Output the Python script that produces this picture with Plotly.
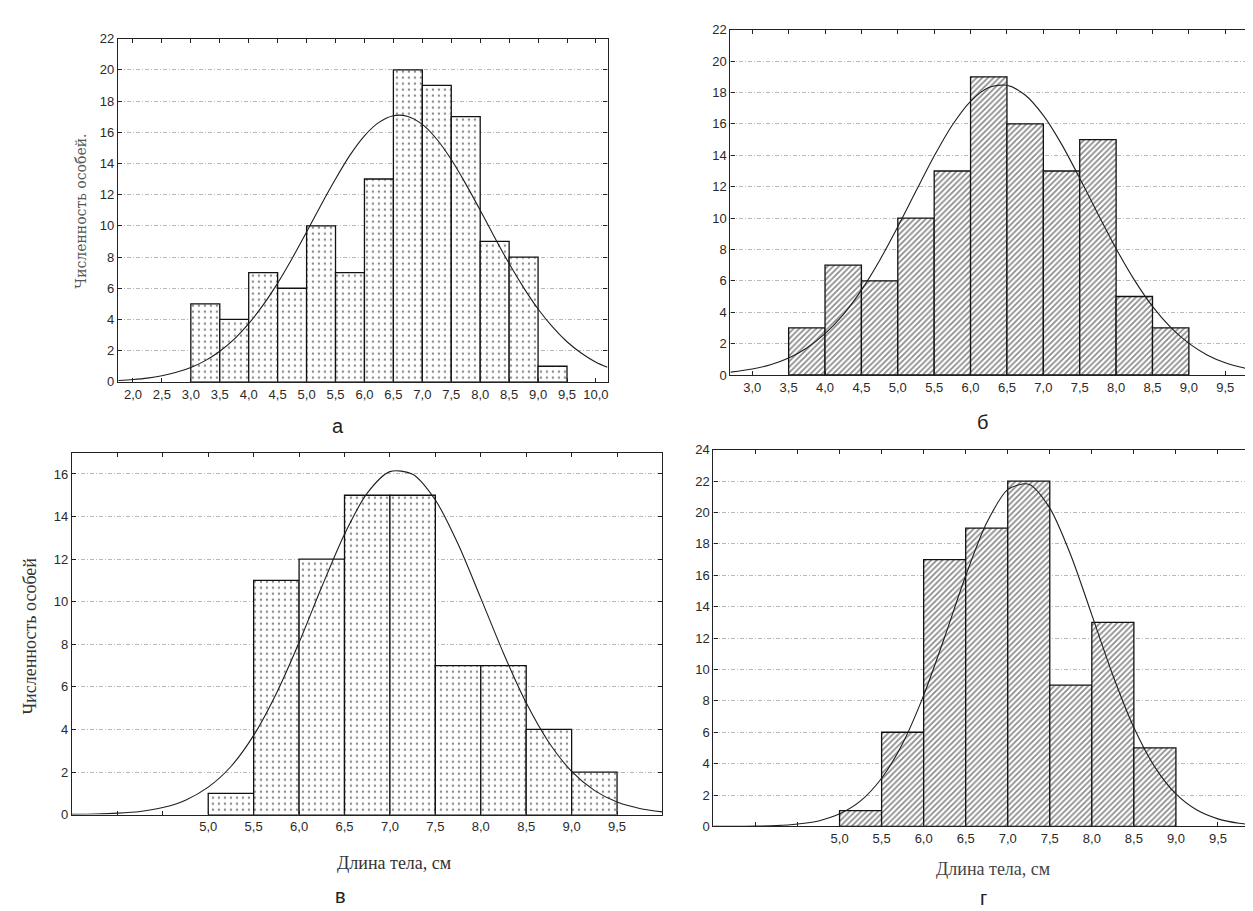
import plotly.graph_objects as go

W, H = 1253, 911
BIN_WIDTH = 0.5

# ---------------- data ----------------
# Panel а
A_BIN_LEFT = [3.0, 3.5, 4.0, 4.5, 5.0, 5.5, 6.0, 6.5, 7.0, 7.5, 8.0, 8.5, 9.0]
A_COUNTS = [5, 4, 7, 6, 10, 7, 13, 20, 19, 17, 9, 8, 1]
A_CURVE_X = [1.75, 2.0, 2.25, 2.5, 2.75, 3.0, 3.25, 3.5, 3.75, 4.0, 4.25, 4.5, 4.75, 5.0,
             5.25, 5.5, 5.75, 6.0, 6.25, 6.5, 6.75, 7.0, 7.25, 7.5, 7.75, 8.0, 8.25, 8.5,
             8.75, 9.0, 9.25, 9.5, 9.75, 10.0, 10.2]
A_CURVE_Y = [0.09, 0.15, 0.24, 0.39, 0.61, 0.92, 1.36, 1.96, 2.74, 3.73, 4.93, 6.33, 7.91, 9.60,
             11.34, 13.0, 14.53, 15.77, 16.63, 17.06, 17.01, 16.50, 15.55, 14.25, 12.69, 11.0,
             9.26, 7.58, 6.04, 4.67, 3.52, 2.57, 1.83, 1.26, 0.93]
A_TICKS = [2.0, 2.5, 3.0, 3.5, 4.0, 4.5, 5.0, 5.5, 6.0, 6.5, 7.0, 7.5, 8.0, 8.5, 9.0, 9.5, 10.0]
A_TICK_TEXT = ["2,0", "2,5", "3,0", "3,5", "4,0", "4,5", "5,0", "5,5", "6,0", "6,5", "7,0",
               "7,5", "8,0", "8,5", "9,0", "9,5", "10,0"]

# Panel б
B_BIN_LEFT = [3.5, 4.0, 4.5, 5.0, 5.5, 6.0, 6.5, 7.0, 7.5, 8.0, 8.5]
B_COUNTS = [3, 7, 6, 10, 13, 19, 16, 13, 15, 5, 3]
B_CURVE_X = [2.7, 3.0, 3.25, 3.5, 3.75, 4.0, 4.25, 4.5, 4.75, 5.0, 5.25, 5.5, 5.75, 6.0, 6.25,
             6.5, 6.75, 7.0, 7.25, 7.5, 7.75, 8.0, 8.25, 8.5, 8.75, 9.0, 9.25, 9.5, 9.75, 9.84]
B_CURVE_Y = [0.18, 0.38, 0.65, 1.08, 1.72, 2.63, 3.85, 5.41, 7.30, 9.45, 11.72, 13.95, 15.93,
             17.44, 18.32, 18.46, 17.84, 16.54, 14.71, 12.54, 10.26, 8.05, 6.06, 4.37, 3.03,
             2.01, 1.28, 0.78, 0.46, 0.38]
B_TICKS = [3.0, 3.5, 4.0, 4.5, 5.0, 5.5, 6.0, 6.5, 7.0, 7.5, 8.0, 8.5, 9.0, 9.5]
B_TICK_TEXT = ["3,0", "3,5", "4,0", "4,5", "5,0", "5,5", "6,0", "6,5", "7,0", "7,5", "8,0",
               "8,5", "9,0", "9,5"]

# Panel в
V_BIN_LEFT = [5.0, 5.5, 6.0, 6.5, 7.0, 7.5, 8.0, 8.5, 9.0]
V_COUNTS = [1, 11, 12, 15, 15, 7, 7, 4, 2]
V_CURVE_X = [3.5, 3.75, 4.0, 4.25, 4.5, 4.75, 5.0, 5.25, 5.5, 5.75, 6.0, 6.25, 6.5, 6.75, 7.0,
             7.25, 7.5, 7.75, 8.0, 8.25, 8.5, 8.75, 9.0, 9.25, 9.5, 9.75, 10.0]
V_CURVE_Y = [0.01, 0.03, 0.07, 0.15, 0.33, 0.68, 1.29, 2.26, 3.72, 5.69, 8.08, 10.70, 13.17,
             15.10, 16.11, 15.99, 14.78, 12.71, 10.17, 7.58, 5.25, 3.39, 2.03, 1.14, 0.59,
             0.29, 0.13]

# Panel г
G_BIN_LEFT = [5.0, 5.5, 6.0, 6.5, 7.0, 7.5, 8.0, 8.5]
G_COUNTS = [1, 6, 17, 19, 22, 9, 13, 5]
G_CURVE_X = [3.5, 3.75, 4.0, 4.25, 4.5, 4.75, 5.0, 5.25, 5.5, 5.75, 6.0, 6.25, 6.5, 6.75, 7.0,
             7.25, 7.5, 7.75, 8.0, 8.25, 8.5, 8.75, 9.0, 9.25, 9.5, 9.75, 10.0]
G_CURVE_Y = [0.0, 0.01, 0.02, 0.05, 0.15, 0.35, 0.80, 1.63, 3.07, 5.29, 8.35, 12.07, 15.97,
             19.34, 21.46, 21.80, 20.28, 17.28, 13.48, 9.63, 6.30, 3.78, 2.07, 1.04, 0.48,
             0.20, 0.08]

VG_TICKS = [4.0, 4.5, 5.0, 5.5, 6.0, 6.5, 7.0, 7.5, 8.0, 8.5, 9.0, 9.5]
VG_TICK_TEXT = ["", "", "5,0", "5,5", "6,0", "6,5", "7,0", "7,5", "8,0", "8,5", "9,0", "9,5"]

Y_TITLE = "Численность особей"
X_TITLE = "Длина тела, см"

# ---------------- figure ----------------
fig = go.Figure()

TICK_FONT = dict(family="Liberation Sans, Arial, sans-serif", size=13, color="#2a2a2a")


def px_domain(left, right, top, bottom):
    return [left / W, right / W], [1 - bottom / H, 1 - top / H]


panels = [
    (A_BIN_LEFT, A_COUNTS, A_CURVE_X, A_CURVE_Y, ".", [1.74, 10.2], [0, 22],
     A_TICKS, A_TICK_TEXT, (110, 600, 24, 373), True),
    (B_BIN_LEFT, B_COUNTS, B_CURVE_X, B_CURVE_Y, "/", [2.7, 9.84], [0, 22],
     B_TICKS, B_TICK_TEXT, (723, 1243, 15, 366), True),
    (V_BIN_LEFT, V_COUNTS, V_CURVE_X, V_CURVE_Y, ".", [3.5, 10.0], [0, 17],
     VG_TICKS, VG_TICK_TEXT, (64, 655, 445, 813), True),
    (G_BIN_LEFT, G_COUNTS, G_CURVE_X, G_CURVE_Y, "/", [3.5, 10.0], [0, 24],
     VG_TICKS, VG_TICK_TEXT, (706, 1253, 442, 825), False),
]

layout_axes = {}
for i, (bins, counts, cx, cy, pat, xr, yr, tv, tt, box, mirror_y) in enumerate(panels, start=1):
    xa = "x" if i == 1 else f"x{i}"
    ya = "y" if i == 1 else f"y{i}"
    centers = [b + BIN_WIDTH / 2 for b in bins]
    if pat == ".":
        pattern = dict(shape=".", fgcolor="#111111", bgcolor="white", size=6, solidity=0.12)
    else:
        pattern = dict(shape="/", fgcolor="#111111", bgcolor="white", size=4, solidity=0.42)
    fig.add_trace(go.Bar(
        x=centers, y=counts, width=BIN_WIDTH, xaxis=xa, yaxis=ya,
        marker=dict(color="white", line=dict(color="#111111", width=1.3), pattern=pattern),
        showlegend=False, hoverinfo="x+y",
    ))
    fig.add_trace(go.Scatter(
        x=cx, y=cy, mode="lines", xaxis=xa, yaxis=ya,
        line=dict(color="#1e1e1e", width=1.1, shape="spline", smoothing=0.8),
        showlegend=False, hoverinfo="skip",
    ))
    dx, dy = px_domain(*box)
    layout_axes["xaxis" if i == 1 else f"xaxis{i}"] = dict(
        domain=dx, range=xr, anchor=ya, tickmode="array", tickvals=tv, ticktext=tt,
        showline=True, linecolor="#222222", linewidth=1.2, mirror="ticks",
        ticks="inside", ticklen=4, tickcolor="#222222", showgrid=False, zeroline=False,
        tickfont=TICK_FONT, fixedrange=True,
    )
    layout_axes["yaxis" if i == 1 else f"yaxis{i}"] = dict(
        domain=dy, range=yr, anchor=xa, tickmode="linear", tick0=0, dtick=2,
        showline=True, linecolor="#222222", linewidth=1.2,
        mirror="ticks" if mirror_y else False,
        ticks="inside", ticklen=4, tickcolor="#222222",
        showgrid=True, gridcolor="#b8b8b8", griddash="4px,2px,1px,2px", gridwidth=1,
        zeroline=False, tickfont=TICK_FONT, fixedrange=True,
    )

fig.update_layout(**layout_axes)
fig.update_layout(barmode="overlay")

letters = [("а", 330, 418), ("б", 975, 414), ("в", 333, 896), ("г", 976, 898)]
anns = []
for t, px, py in letters:
    anns.append(dict(text=t, x=px / W, y=1 - py / H, xref="paper", yref="paper",
                     showarrow=False, xanchor="center", yanchor="middle",
                     font=dict(family="Liberation Sans, Arial, sans-serif", size=20, color="#222222")))

# axis titles
anns.append(dict(text=Y_TITLE + ".", x=73 / W, y=1 - 199 / H, xref="paper", yref="paper",
                 showarrow=False, textangle=-90, xanchor="center", yanchor="middle",
                 font=dict(family="DejaVu Serif, serif", size=14, color="#555555")))
anns.append(dict(text=Y_TITLE, x=22 / W, y=1 - 631 / H, xref="paper", yref="paper",
                 showarrow=False, textangle=-90, xanchor="center", yanchor="middle",
                 font=dict(family="Liberation Serif, Times New Roman, serif", size=18, color="#333333")))
anns.append(dict(text=X_TITLE, x=386 / W, y=1 - 862 / H, xref="paper", yref="paper",
                 showarrow=False, xanchor="center", yanchor="middle",
                 font=dict(family="Liberation Serif, Times New Roman, serif", size=18, color="#333333")))
anns.append(dict(text=X_TITLE, x=986 / W, y=1 - 868 / H, xref="paper", yref="paper",
                 showarrow=False, xanchor="center", yanchor="middle",
                 font=dict(family="Liberation Serif, Times New Roman, serif", size=18, color="#444444")))

fig.update_layout(
    width=W, height=H, margin=dict(l=0, r=0, t=0, b=0),
    paper_bgcolor="white", plot_bgcolor="white",
    annotations=anns, showlegend=False,
)

fig.write_html("out.html")
